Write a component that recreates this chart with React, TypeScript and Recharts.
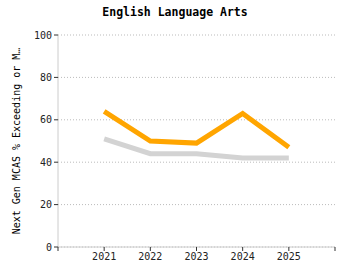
import React from "react";
import { LineChart, Line, XAxis, YAxis, CartesianGrid } from "recharts";

const years = [2021, 2022, 2023, 2024, 2025];
const schoolValues = [64, 50, 49, 63, 47];
const stateValues = [51, 44, 44, 42, 42];
const xTicks = [2020, 2021, 2022, 2023, 2024, 2025, 2026];
const yTicks = [0, 20, 40, 60, 80, 100];
const title = "English Language Arts";
const yLabel = "Next Gen MCAS % Exceeding or M…";

const data = years.map((y, i) => ({ year: y, school: schoolValues[i], state: stateValues[i] }));

const FONT = "'DejaVu Sans Mono', monospace";

export default function App() {
  return (
    <div style={{ position: "absolute", left: 0, top: 0, width: 350, height: 280, background: "#fff" }}>
      <LineChart width={350} height={280} data={data} margin={{ top: 35, right: 15, bottom: 3, left: 0 }}>
        <CartesianGrid vertical={false} stroke="#bbb" strokeDasharray="1 2" />
        <XAxis
          dataKey="year"
          type="number"
          domain={[2020, 2026]}
          ticks={xTicks}
          tickFormatter={(v: number) => (v === 2020 || v === 2026 ? "" : String(v))}
          stroke="#ccc"
          tickLine={{ stroke: "#333" }}
          tickSize={4}
          height={30}
          tick={{ fill: "#222", fontSize: 10, fontFamily: FONT }}
        />
        <YAxis
          width={58}
          domain={[0, 100]}
          ticks={yTicks}
          stroke="#ccc"
          tickLine={{ stroke: "#333" }}
          tickSize={4}
          tick={{ fill: "#222", fontSize: 10, fontFamily: FONT }}
        />
        <Line dataKey="state" stroke="#d3d3d3" strokeWidth={5} dot={false} isAnimationActive={false} />
        <Line dataKey="school" stroke="#ffa500" strokeWidth={5} dot={false} isAnimationActive={false} />
      </LineChart>
      <svg width={350} height={280} style={{ position: "absolute", left: 0, top: 0, pointerEvents: "none" }}>
        <text x={175} y={16} textAnchor="middle" fontFamily={FONT} fontSize={11.5} fontWeight="bold" fill="#000">
          {title}
        </text>
        <text
          x={0}
          y={0}
          transform="translate(20,141) rotate(-90)"
          textAnchor="middle"
          fontFamily={FONT}
          fontSize={10}
          fill="#000"
        >
          {yLabel}
        </text>
      </svg>
    </div>
  );
}
